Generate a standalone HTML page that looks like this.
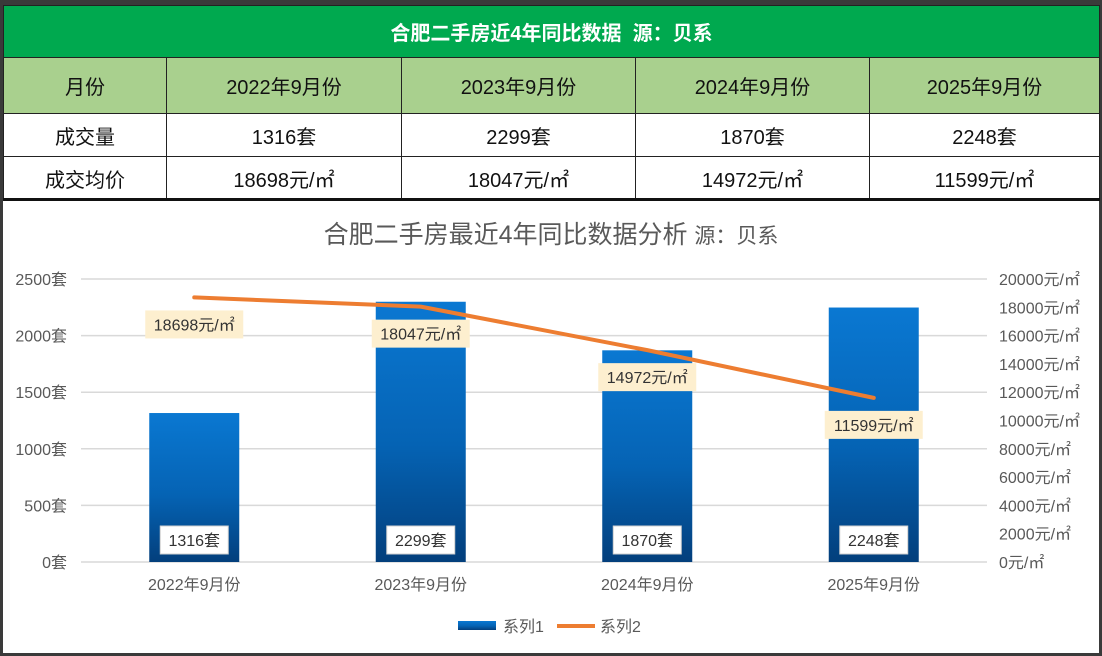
<!DOCTYPE html>
<html><head><meta charset="utf-8">
<style>
body{margin:0;width:1102px;height:656px;overflow:hidden;background:#fff;font-family:"Liberation Sans","Noto Sans CJK SC",sans-serif;}
#frame{position:absolute;left:0;top:0;width:1102px;height:656px;box-sizing:border-box;border:3px solid #3a3a3a;border-top:5px solid #3a3a3a;}
table{position:absolute;left:3px;top:5px;border-collapse:collapse;width:1097px;}
td{border:1px solid #222;text-align:center;font-size:20px;color:#111;padding:0;}
.t{background:#00a94f;color:#fff;font-weight:bold;height:51px;font-size:20px;}
.h td{background:#a9d08e;height:55px;}
.r td{height:42px;background:#fff;}
#sep{position:absolute;left:3px;top:198px;width:1097px;height:3px;background:#111;}
svg{position:absolute;left:0;top:0;}
</style></head><body>
<div id="frame"></div>
<table>
<tr><td class="t" colspan="5">合肥二手房近4年同比数据&nbsp; 源：贝系</td></tr>
<tr class="h"><td style="width:162px">月份</td><td style="width:234px">2022年9月份</td><td style="width:233px">2023年9月份</td><td style="width:233px">2024年9月份</td><td>2025年9月份</td></tr>
<tr class="r"><td>成交量</td><td>1316套</td><td>2299套</td><td>1870套</td><td>2248套</td></tr>
<tr class="r"><td>成交均价</td><td>18698元/㎡</td><td>18047元/㎡</td><td>14972元/㎡</td><td>11599元/㎡</td></tr>
</table>
<div id="sep"></div>
<svg id="c" width="1102" height="656">
<defs><linearGradient id="g" x1="0" y1="0" x2="0" y2="1"><stop offset="0" stop-color="#0a78d2"/><stop offset="0.55" stop-color="#0563b4"/><stop offset="1" stop-color="#033f7c"/></linearGradient></defs>
</svg>
<script>
const categories=["2022年9月份","2023年9月份","2024年9月份","2025年9月份"];
const volumes=[1316,2299,1870,2248];
const prices=[18698,18047,14972,11599];
const leftTicks=[0,500,1000,1500,2000,2500];
const rightTicks=[0,2000,4000,6000,8000,10000,12000,14000,16000,18000,20000];
const svg=document.getElementById('c');const NS="http://www.w3.org/2000/svg";
function mk(t,a,txt){const e=document.createElementNS(NS,t);for(const k in a)e.setAttribute(k,a[k]);if(txt!=null)e.textContent=txt;svg.appendChild(e);return e;}
const X0=81,X1=987,Y0=562,Y1=279;
const yL=v=>Y0-(Y0-Y1)*v/2500, yR=v=>Y0-(Y0-Y1)*v/20000;
const step=(X1-X0)/categories.length, xc=i=>X0+step*(i+0.5);
let e=mk('text',{x:551,y:243,'text-anchor':'middle','font-size':25,fill:'#595959'},'合肥二手房最近4年同比数据分析 ');

const ts=document.createElementNS(NS,'tspan');ts.setAttribute('font-size',21);ts.textContent='源：贝系';e.appendChild(ts);
leftTicks.forEach(v=>{const l=mk('line',{x1:X0,x2:X1,y1:yL(v),y2:yL(v),stroke:'#d9d9d9','stroke-width':1.5});

const t=mk('text',{x:67,y:yL(v)+6,'text-anchor':'end','font-size':16,fill:'#595959'},v+'套');
});
rightTicks.forEach(v=>{const t=mk('text',{x:999,y:yR(v)+6,'font-size':16,fill:'#595959'},v+'元/㎡');
});
volumes.forEach((v,i)=>{const b=mk('rect',{x:xc(i)-45,y:yL(v),width:90,height:Y0-yL(v),fill:'url(#g)'});

const r=mk('rect',{x:xc(i)-34,y:526,width:68,height:28,fill:'#fff',stroke:'#d0d0d0'});

const t=mk('text',{x:xc(i),y:546,'text-anchor':'middle','font-size':16,fill:'#333'},v+'套');

const c=mk('text',{x:xc(i),y:590,'text-anchor':'middle','font-size':16,fill:'#595959'},categories[i]);
});
const pl=mk('polyline',{points:prices.map((p,i)=>xc(i)+','+yR(p)).join(' '),fill:'none',stroke:'#ed7d31','stroke-width':4,'stroke-linecap':'round','stroke-linejoin':'round'});

prices.forEach((p,i)=>{const y=yR(p)+27;
const r=mk('rect',{x:xc(i)-49,y:y-14,width:98,height:28,fill:'#fdefcf'});

const t=mk('text',{x:xc(i),y:y+6,'text-anchor':'middle','font-size':16,fill:'#333'},p+'元/㎡');
});
let l1=mk('rect',{x:458,y:621,width:38,height:9,fill:'url(#g)'});
let t1=mk('text',{x:503,y:632,'font-size':16,fill:'#595959'},'系列1');
let l2=mk('line',{x1:557,x2:595,y1:626,y2:626,stroke:'#ed7d31','stroke-width':4});
let t2=mk('text',{x:600,y:632,'font-size':16,fill:'#595959'},'系列2');
</script>
</body></html>
